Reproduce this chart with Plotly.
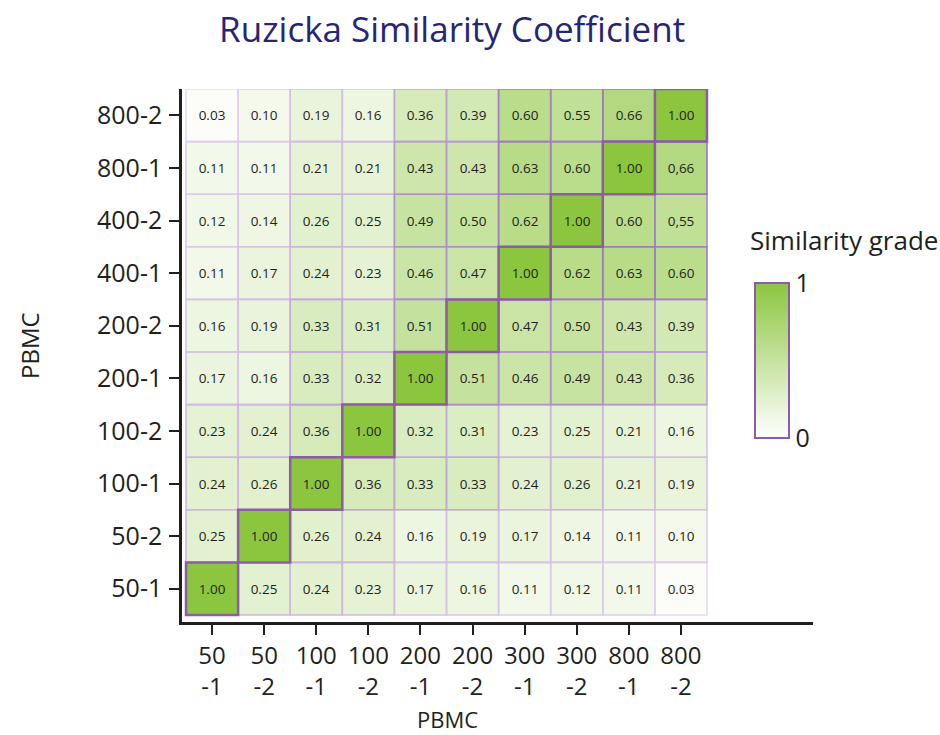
import plotly.graph_objects as go

# ---- data ----
x_labels = ["50<br>-1", "50<br>-2", "100<br>-1", "100<br>-2", "200<br>-1",
            "200<br>-2", "300<br>-1", "300<br>-2", "800<br>-1", "800<br>-2"]
y_labels = ["50-1", "50-2", "100-1", "100-2", "200-1",
            "200-2", "400-1", "400-2", "800-1", "800-2"]

# rows listed bottom (50-1) to top (800-2)
row_50_1 = [1.00, 0.25, 0.24, 0.23, 0.17, 0.16, 0.11, 0.12, 0.11, 0.03]
row_50_2 = [0.25, 1.00, 0.26, 0.24, 0.16, 0.19, 0.17, 0.14, 0.11, 0.10]
row_100_1 = [0.24, 0.26, 1.00, 0.36, 0.33, 0.33, 0.24, 0.26, 0.21, 0.19]
row_100_2 = [0.23, 0.24, 0.36, 1.00, 0.32, 0.31, 0.23, 0.25, 0.21, 0.16]
row_200_1 = [0.17, 0.16, 0.33, 0.32, 1.00, 0.51, 0.46, 0.49, 0.43, 0.36]
row_200_2 = [0.16, 0.19, 0.33, 0.31, 0.51, 1.00, 0.47, 0.50, 0.43, 0.39]
row_400_1 = [0.11, 0.17, 0.24, 0.23, 0.46, 0.47, 1.00, 0.62, 0.63, 0.60]
row_400_2 = [0.12, 0.14, 0.26, 0.25, 0.49, 0.50, 0.62, 1.00, 0.60, 0.55]
row_800_1 = [0.11, 0.11, 0.21, 0.21, 0.43, 0.43, 0.63, 0.60, 1.00, 0.66]
row_800_2 = [0.03, 0.10, 0.19, 0.16, 0.36, 0.39, 0.60, 0.55, 0.66, 1.00]

z = [row_50_1, row_50_2, row_100_1, row_100_2, row_200_1,
     row_200_2, row_400_1, row_400_2, row_800_1, row_800_2]

# cells printed with a decimal comma in the original (row index, column index)
comma_cells = [(7, 9), (8, 9)]

labels = []
for r, row in enumerate(z):
    out = []
    for c, v in enumerate(row):
        s = f"{v:.2f}"
        if (r, c) in comma_cells:
            s = s.replace(".", ",")
        out.append(s)
    labels.append(out)

FONT = "Open Sans"
INK = "#231f20"
DIAG_PURPLE = "rgb(142,91,168)"
LIGHT_PURPLE = (234, 222, 241)
MID_PURPLE = (158, 118, 190)


def border_color(v):
    t = min(v / 0.66, 1.0)
    c = [round(a + (b - a) * t) for a, b in zip(LIGHT_PURPLE, MID_PURPLE)]
    return f"rgb({c[0]},{c[1]},{c[2]})"


fig = go.Figure()
fig.add_trace(go.Heatmap(
    x=x_labels, y=y_labels, z=z, text=labels,
    texttemplate="%{text}",
    textfont=dict(family=FONT, size=13.5, color="#231f20"),
    zmin=0, zmax=1,
    colorscale=[[0, "#ffffff"], [1, "#8cc63f"]],
    hoverinfo="skip",
    colorbar=dict(
        x=0.908, xanchor="left", xpad=0,
        y=0.4906, yanchor="middle", ypad=0,
        len=0.291, lenmode="fraction",
        thickness=34, thicknessmode="pixels",
        outlinewidth=2, outlinecolor=DIAG_PURPLE,
        tickvals=[0, 1], ticktext=["0", "1"],
        ticks="", ticklabelposition="outside",
        tickfont=dict(family=FONT, size=25, color=INK),
    ),
))

# cell borders, drawn weakest first so stronger ones sit on top
cells = []
for r, row in enumerate(z):
    for c, v in enumerate(row):
        cells.append((v, r, c))
cells.sort()
for v, r, c in cells:
    diag = (r == c)
    fig.add_shape(
        type="rect", xref="x", yref="y",
        x0=c - 0.5, x1=c + 0.5, y0=r - 0.5, y1=r + 0.5,
        line=dict(color=DIAG_PURPLE if diag else border_color(v),
                  width=2.5 if diag else 1.6),
        fillcolor="rgba(0,0,0,0)", layer="above",
    )

fig.update_layout(
    width=940, height=735,
    margin=dict(l=182, r=127, t=89, b=113, autoexpand=False),
    paper_bgcolor="white", plot_bgcolor="white",
    font=dict(family=FONT, color=INK),
    title=dict(text="Ruzicka Similarity Coefficient",
               x=0.481, y=0.959, xanchor="center", yanchor="middle",
               font=dict(family=FONT, size=35, color="#262673")),
    xaxis=dict(
        type="category", range=[-0.577, 11.535],
        showline=True, linecolor=INK, linewidth=2.5,
        ticks="outside", ticklen=10, tickwidth=2, tickcolor=INK,
        tickfont=dict(family=FONT, size=24, color=INK),
        ticklabelstandoff=0,
        showgrid=False, zeroline=False, fixedrange=True,
    ),
    yaxis=dict(
        type="category", range=[-0.633, 9.5],
        showline=True, linecolor=INK, linewidth=2.5,
        ticks="outside", ticklen=10, tickwidth=2, tickcolor=INK,
        tickfont=dict(family=FONT, size=25, color=INK),
        ticklabelstandoff=2,
        showgrid=False, zeroline=False, fixedrange=True,
    ),
    annotations=[
        dict(text="PBMC", xref="paper", yref="paper", x=0.42, y=-0.182,
             xanchor="center", yanchor="middle", showarrow=False, borderpad=0,
             font=dict(family=FONT, size=22, color=INK)),
        dict(text="PBMC", xref="paper", yref="paper", x=-0.2409, y=0.5197,
             xanchor="center", yanchor="middle", showarrow=False, textangle=-90,
             font=dict(family=FONT, size=24, color=INK)),
        dict(text="Similarity grade", xref="paper", yref="paper", x=0.897, y=0.717,
             xanchor="left", yanchor="middle", showarrow=False,
             font=dict(family=FONT, size=26, color=INK)),
    ],
)

fig.write_html("out.html", config={"displayModeBar": False},
               post_script="document.body.style.margin='0';")
